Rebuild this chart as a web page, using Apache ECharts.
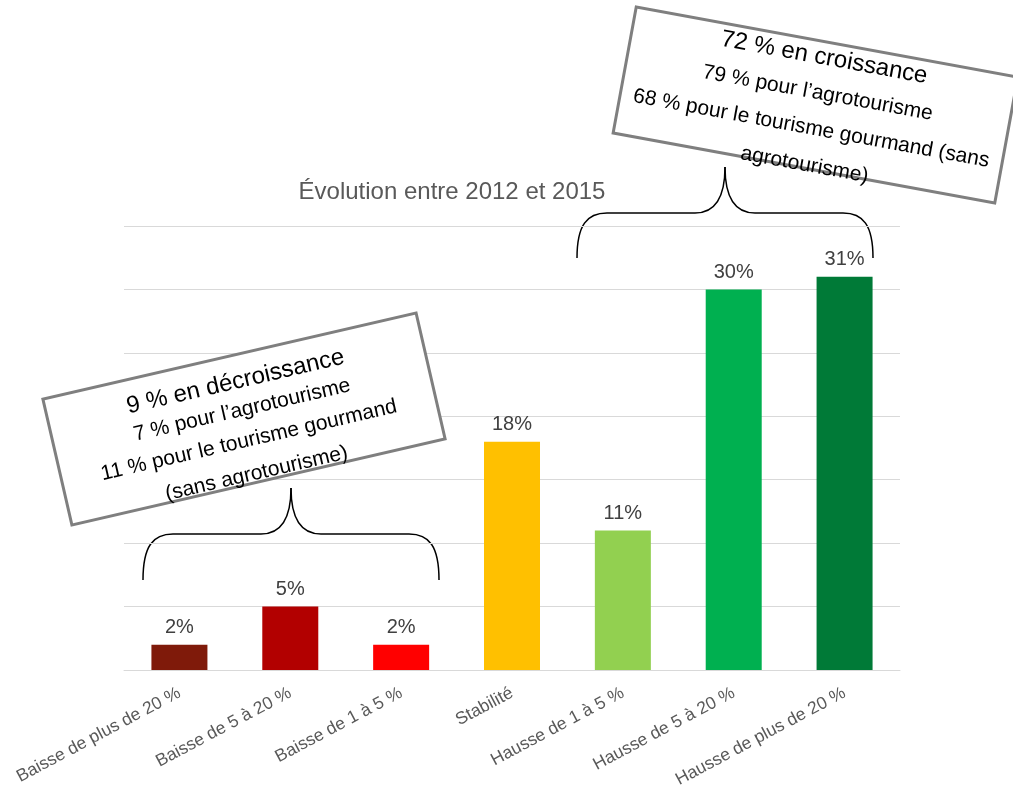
<!DOCTYPE html>
<html><head><meta charset="utf-8">
<script src="https://cdn.jsdelivr.net/npm/echarts@6/dist/echarts.min.js"></script>
<style>html,body{margin:0;padding:0;background:#fff}#c{width:1013px;height:788px}</style>
</head><body><div id="c"></div>
<script>
const categories = ['Baisse de plus de 20 %', 'Baisse de 5 à 20 %', 'Baisse de 1 à 5 %', 'Stabilité', 'Hausse de 1 à 5 %', 'Hausse de 5 à 20 %', 'Hausse de plus de 20 %'];
const values = [2, 5, 2, 18, 11, 30, 31];
const barColors = ['#7F1A0A', '#B20000', '#FF0000', '#FFC000', '#92D050', '#00B050', '#007A37'];
const yMin = 0, yMax = 35, yInterval = 5;
const titleText = 'Évolution entre 2012 et 2015';
const leftBoxLines = ['9 % en décroissance', '7 % pour l’agrotourisme', '11 % pour le tourisme gourmand', '(sans agrotourisme)'];
const rightBoxLines = ['72 % en croissance', '79 % pour l’agrotourisme', '68 % pour le tourisme gourmand (sans', 'agrotourisme)'];

const FONT = '"Liberation Sans", Arial, sans-serif';
const chart = echarts.init(document.getElementById('c'));

function boxGroup(cx, cy, w, h, rotDeg, lines, ys) {
  const children = [{
    type: 'rect', z: 100, shape: { x: -w / 2, y: -h / 2, width: w, height: h },
    style: { fill: '#fff', stroke: '#7f7f7f', lineWidth: 3 }
  }];
  lines.forEach((t, i) => {
    children.push({
      type: 'text', z: 101, x: 0, y: ys[i],
      style: { text: t, fontSize: i === 0 ? 24 : 21, fontFamily: FONT, fill: '#000', align: 'center', verticalAlign: 'middle' }
    });
  });
  return { type: 'group', x: cx, y: cy, rotation: rotDeg * Math.PI / 180, z: 100, children };
}

// curly brace from xl to xr, ends at yEnd, flat at yFlat, tip at yTip
function brace(xl, xr, yEnd, yFlat, yTip) {
  const xm = (xl + xr) / 2;
  const st = { stroke: '#000', lineWidth: 1.5, fill: 'none' };
  const r = 30;
  return [
    { type: 'bezierCurve', shape: { x1: xl, y1: yEnd, cpx1: xl, cpy1: yFlat + 12, cpx2: xl + 10, cpy2: yFlat, x2: xl + r, y2: yFlat }, style: st },
    { type: 'line', shape: { x1: xl + r, y1: yFlat, x2: xm - r, y2: yFlat }, style: st },
    { type: 'bezierCurve', shape: { x1: xm - r, y1: yFlat, cpx1: xm - 11, cpy1: yFlat, cpx2: xm, cpy2: yFlat - 14, x2: xm, y2: yTip }, style: st },
    { type: 'bezierCurve', shape: { x1: xm + r, y1: yFlat, cpx1: xm + 11, cpy1: yFlat, cpx2: xm, cpy2: yFlat - 14, x2: xm, y2: yTip }, style: st },
    { type: 'line', shape: { x1: xm + r, y1: yFlat, x2: xr - r, y2: yFlat }, style: st },
    { type: 'bezierCurve', shape: { x1: xr, y1: yEnd, cpx1: xr, cpy1: yFlat + 12, cpx2: xr - 10, cpy2: yFlat, x2: xr - r, y2: yFlat }, style: st }
  ];
}

chart.setOption({
  animation: false,
  backgroundColor: '#fff',
  grid: { left: 124, right: 113, top: 226, bottom: 118, containLabel: false, outerBoundsMode: 'none' },
  xAxis: {
    type: 'category', data: categories,
    axisLine: { lineStyle: { color: '#d9d9d9', width: 1 } },
    axisTick: { show: false },
    axisLabel: { rotate: 28, interval: 0, fontSize: 17.5, color: '#595959', fontFamily: FONT, margin: 22 }
  },
  yAxis: {
    type: 'value', min: yMin, max: yMax, interval: yInterval,
    axisLabel: { show: false }, axisLine: { show: false }, axisTick: { show: false },
    splitLine: { lineStyle: { color: '#d9d9d9', width: 1 } }
  },
  series: [{
    type: 'bar', barWidth: 56,
    data: values.map((v, i) => ({ value: v, itemStyle: { color: barColors[i] } })),
    label: { show: true, position: 'top', distance: 7, formatter: '{c}%', fontSize: 20, color: '#404040', fontFamily: FONT }
  }],
  graphic: [
    { type: 'text', x: 452, y: 192, style: { text: titleText, fontSize: 24, fontFamily: FONT, fill: '#595959', align: 'center', verticalAlign: 'middle' } },
    ...brace(143, 439, 580, 534, 488),
    ...brace(577, 873, 258, 213, 167),
    boxGroup(244, 419, 383, 129, 13, leftBoxLines, [-38, -9, 22, 56]),
    boxGroup(815.5, 105, 388, 128, -10.4, rightBoxLines, [-48, -12, 24, 61])
  ]
});
</script></body></html>
